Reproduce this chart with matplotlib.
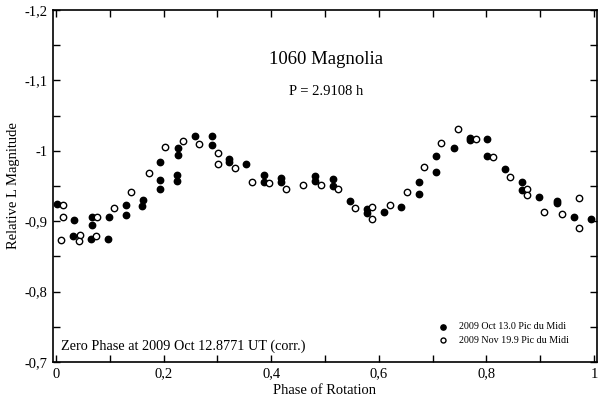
import matplotlib
matplotlib.use("Agg")
import matplotlib.pyplot as plt
from matplotlib.ticker import MultipleLocator, FixedLocator

plt.rcParams['font.family'] = ['Liberation Serif', 'DejaVu Serif']

# Session 1: 2009 Oct 13.0 (filled)
oct_phase = [0.001, 0.034, 0.032, 0.066, 0.066, 0.065, 0.098, 0.097, 0.130, 0.130,
             0.162, 0.160, 0.193, 0.193, 0.193, 0.226, 0.226, 0.224, 0.224, 0.258,
             0.290, 0.290, 0.322, 0.322, 0.354, 0.386, 0.386, 0.418, 0.418, 0.481,
             0.481, 0.514, 0.514, 0.547, 0.578, 0.578, 0.610, 0.642, 0.674, 0.674,
             0.706, 0.706, 0.739, 0.770, 0.770, 0.802, 0.802, 0.834, 0.866, 0.866,
             0.898, 0.931, 0.931, 0.962, 0.994]
oct_mag = [-0.925, -0.902, -0.879, -0.906, -0.894, -0.874, -0.906, -0.875, -0.923, -0.909,
           -0.930, -0.922, -0.984, -0.959, -0.945, -1.004, -0.994, -0.965, -0.957, -1.021,
           -1.021, -1.008, -0.988, -0.984, -0.981, -0.965, -0.956, -0.962, -0.955, -0.964,
           -0.957, -0.960, -0.950, -0.929, -0.917, -0.912, -0.913, -0.920, -0.956, -0.938,
           -0.993, -0.970, -1.004, -1.018, -1.015, -1.016, -0.993, -0.974, -0.955, -0.944,
           -0.935, -0.929, -0.926, -0.906, -0.903]

# Session 2: 2009 Nov 19.9 (open)
nov_phase = [0.0125, 0.0125, 0.010, 0.045, 0.042, 0.076, 0.074, 0.108, 0.140, 0.172,
             0.203, 0.236, 0.266, 0.301, 0.301, 0.332, 0.364, 0.396, 0.428, 0.460,
             0.492, 0.524, 0.555, 0.588, 0.588, 0.620, 0.652, 0.684, 0.716, 0.748,
             0.780, 0.812, 0.844, 0.876, 0.876, 0.908, 0.940, 0.973, 0.972]
nov_mag = [-0.923, -0.906, -0.873, -0.880, -0.872, -0.906, -0.879, -0.918, -0.941, -0.968,
           -1.006, -1.014, -1.010, -0.997, -0.981, -0.976, -0.955, -0.954, -0.946, -0.952,
           -0.951, -0.946, -0.919, -0.920, -0.903, -0.923, -0.941, -0.977, -1.011, -1.031,
           -1.016, -0.991, -0.963, -0.945, -0.937, -0.913, -0.910, -0.933, -0.891]

series_labels = ["2009 Oct 13.0 Pic du Midi", "2009 Nov 19.9 Pic du Midi"]
xticks = [0, 0.2, 0.4, 0.6, 0.8, 1.0]
xticklabels = ["0", "0,2", "0,4", "0,6", "0,8", "1"]
yticks = [-1.2, -1.1, -1.0, -0.9, -0.8, -0.7]
yticklabels = ["-1,2", "-1,1", "-1", "-0,9", "-0,8", "-0,7"]

fig = plt.figure(figsize=(6.0, 3.98), dpi=100)
ax = fig.add_axes([0.088, 0.0905, 0.907, 0.8845])

ax.plot(oct_phase, oct_mag, 'o', color='black', ms=4.6, ls='none')
ax.plot(nov_phase, nov_mag, 'o', mfc='white', mec='black', mew=1.0, ms=4.6, ls='none')

ax.set_xlim(-0.006, 1.0056)
ax.set_ylim(-0.7, -1.2)

ax.xaxis.set_major_locator(FixedLocator(xticks))
ax.set_xticklabels(xticklabels)
ax.xaxis.set_minor_locator(MultipleLocator(0.1))
ax.yaxis.set_major_locator(FixedLocator(yticks))
ax.set_yticklabels(yticklabels)
ax.yaxis.set_minor_locator(MultipleLocator(0.05))

ax.tick_params(which='both', direction='in', top=True, right=True, length=5, width=1.0,
               labelsize=10.5, pad=4)
for s in ax.spines.values():
    s.set_linewidth(1.2)

ax.set_xlabel("Phase of Rotation", fontsize=10.5, labelpad=2.5)
ax.set_ylabel("Relative L Magnitude", fontsize=10.5, labelpad=3)

ax.text(0.502, -1.129, "1060 Magnolia", ha='center', va='center', fontsize=13.5)
ax.text(0.502, -1.0835, "P = 2.9108 h", ha='center', va='center', fontsize=10.5)
ax.text(0.010, -0.7225, "Zero Phase at 2009 Oct 12.8771 UT (corr.)", ha='left', va='center',
        fontsize=10.3)

# legend
ax.plot([0.719], [-0.7497], 'o', color='black', ms=3.8)
ax.plot([0.719], [-0.731], 'o', mfc='white', mec='black', mew=1.0, ms=3.6)
ax.text(0.750, -0.7497, series_labels[0], ha='left', va='center', fontsize=7.2)
ax.text(0.750, -0.731, series_labels[1], ha='left', va='center', fontsize=7.2)

fig.savefig("out.png", dpi=100)
